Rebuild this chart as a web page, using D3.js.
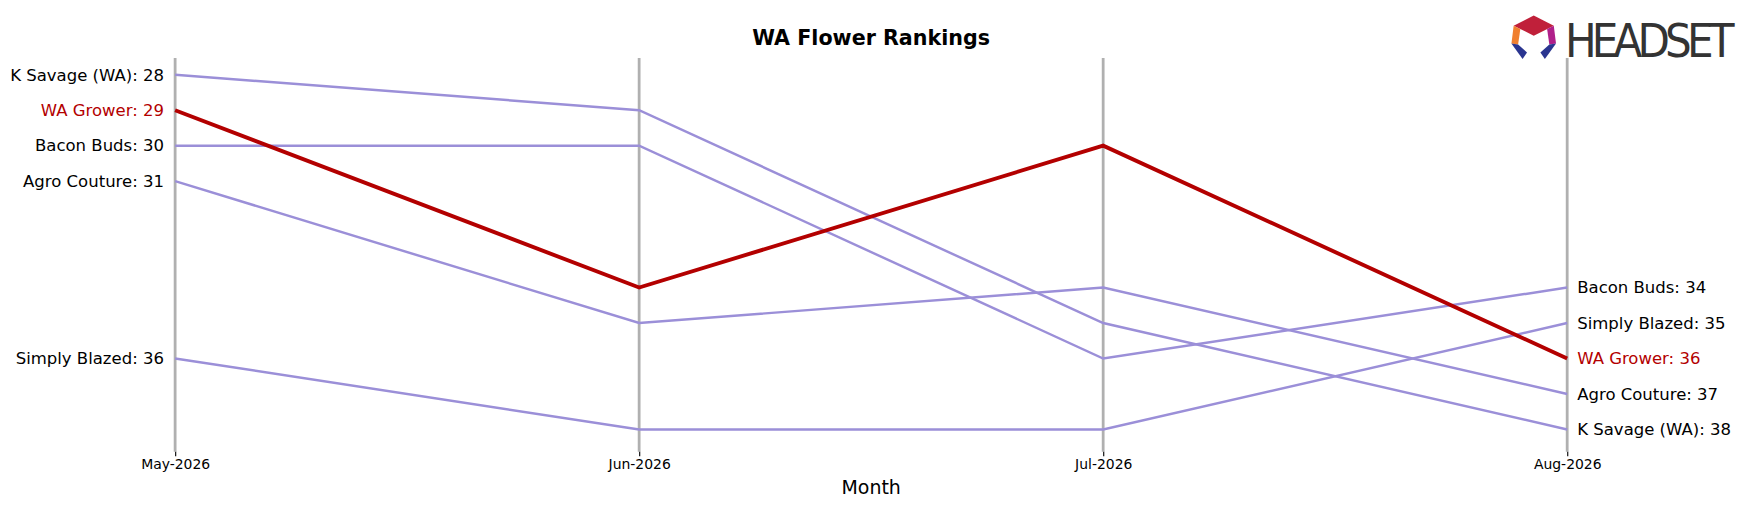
<!DOCTYPE html>
<html><head><meta charset="utf-8">
<script src="https://cdn.jsdelivr.net/npm/d3@7"></script>
<style>body{margin:0;background:#fff;font-family:"DejaVu Sans",sans-serif}</style>
</head><body><svg id="chart" width="1749" height="506"></svg>
<script>
const months = ['May-2026', 'Jun-2026', 'Jul-2026', 'Aug-2026']
const brands = ['K Savage (WA)', 'WA Grower', 'Bacon Buds', 'Agro Couture', 'Simply Blazed']
const ranks = [
  [28, 29, 35, 38],
  [29, 34, 30, 36],
  [30, 30, 36, 34],
  [31, 35, 34, 37],
  [36, 38, 38, 35]
]
const highlight = 'WA Grower'

// layout measured on a 1568px-wide view, scaled up to the 1749px page
const svg = d3.select('#chart').append('g').attr('transform', `scale(${1749 / 1568})`)
const x = d3.scalePoint().domain(months).range([157, 1405])
const y = d3.scaleLinear().domain([28, 38]).range([67, 385])
const PURPLE = '#9b8fd8', RED = '#b30000'

svg.append('text').attr('x', 781).attr('y', 40).attr('text-anchor', 'middle')
  .attr('font-size', 18.5).attr('font-weight', 'bold').text('WA Flower Rankings')

months.forEach(m => {
  svg.append('line').attr('x1', x(m)).attr('x2', x(m)).attr('y1', 52).attr('y2', 405)
    .attr('stroke', '#b0b0b0').attr('stroke-width', 2.5)
})
const axis = svg.append('g').attr('transform', 'translate(0,405)')
  .call(d3.axisBottom(x).tickSize(4).tickPadding(3))
axis.select('.domain').remove()
axis.selectAll('text').attr('font-size', 12.5).attr('fill', '#000').attr('font-family', 'DejaVu Sans')
svg.append('text').attr('x', 781).attr('y', 443).attr('text-anchor', 'middle')
  .attr('font-size', 17).text('Month')

const line = d3.line().x((d, i) => x(months[i])).y(d => y(d))
const order = brands.map((b, i) => i).sort((a, b) => (brands[a] === highlight) - (brands[b] === highlight))
order.forEach(i => {
  const hi = brands[i] === highlight
  svg.append('path').datum(ranks[i]).attr('d', line).attr('fill', 'none')
    .attr('stroke', hi ? RED : PURPLE).attr('stroke-width', hi ? 3.5 : 2.2)
  const r = ranks[i]
  svg.append('text').attr('x', x(months[0]) - 10).attr('y', y(r[0])).attr('dy', '0.35em')
    .attr('text-anchor', 'end').attr('font-size', 14.8).attr('fill', hi ? RED : '#000')
    .text(`${brands[i]}: ${r[0]}`)
  svg.append('text').attr('x', x(months[3]) + 9).attr('y', y(r[3])).attr('dy', '0.35em')
    .attr('font-size', 14.8).attr('fill', hi ? RED : '#000')
    .text(`${brands[i]}: ${r[3]}`)
})

// logo
const logo = svg.append('g').attr('transform', 'translate(1375,33)')
logo.append('polygon').attr('points', '-18,-10 0,-19 18,-10 0,-1').attr('fill', '#c0203a')
logo.append('polygon').attr('points', '-18,-10 -12,-7 -14,7 -20,6').attr('fill', '#f08030')
logo.append('polygon').attr('points', '18,-10 12,-7 14,7 20,6').attr('fill', '#b0208a')
logo.append('polygon').attr('points', '-20,6 -14,7 -6,14 -10,20').attr('fill', '#2a3590')
logo.append('polygon').attr('points', '20,6 14,7 6,14 10,20').attr('fill', '#2a3590')
svg.append('text').attr('x', 1403).attr('y', 51).attr('font-size', 42)
  .attr('font-family', 'Liberation Sans Narrow, DejaVu Sans Condensed, sans-serif')
  .attr('fill', '#333').attr('textLength', 152).text('HEADSET')
</script></body></html>
